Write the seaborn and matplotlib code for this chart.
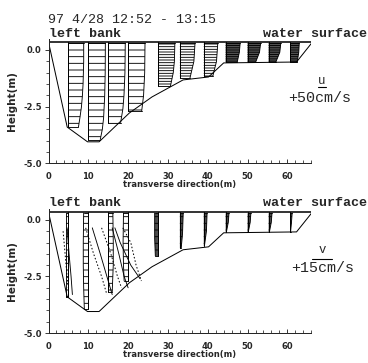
import numpy as np
import pandas as pd
import matplotlib
matplotlib.use("Agg")
import matplotlib.pyplot as plt
import seaborn as sns

# ---- cross-section geometry (m) ----
bed_x = [0.0, 4.7, 9.8, 12.7, 20.3, 26.0, 33.8, 40.2, 44.0, 62.3, 66.3]
bed_z = [0.35, -3.40, -4.05, -4.05, -2.78, -2.07, -1.32, -1.19, -0.57, -0.53, 0.35]
water_level = 0.35

# ---- measuring verticals ----
station_x = [5.0, 10.0, 15.0, 20.0, 27.5, 33.0, 39.0, 44.5, 50.0, 55.3, 60.7]

# streamwise velocity u (cm/s) at measured heights (m)
u_height = [
    [0.30, -0.50, -1.00, -1.50, -2.00, -2.50, -3.00, -3.40],
    [0.30, -1.00, -2.00, -3.00, -3.50, -3.95],
    [0.30, -1.00, -2.00, -2.60, -3.20],
    [0.30, -1.00, -2.00, -2.70],
    [0.30, -0.50, -1.00, -1.60],
    [0.30, -0.50, -1.25],
    [0.30, -0.50, -1.15],
    [0.30, -0.10, -0.55],
    [0.30, -0.10, -0.55],
    [0.30, -0.10, -0.55],
    [0.30, -0.10, -0.55],
]
u_value = [
    [96, 96, 94, 92, 88, 82, 72, 63],
    [107, 106, 103, 96, 88, 75],
    [107, 105, 99, 92, 78],
    [106, 104, 97, 85],
    [106, 103, 96, 78],
    [95, 88, 63],
    [88, 80, 57],
    [91, 86, 72],
    [82, 75, 50],
    [76, 70, 44],
    [57, 54, 44],
]

# transverse velocity v (cm/s): bar profiles
v_height = [
    [0.30, -1.00, -2.00, -3.00, -3.40],
    [0.30, -1.00, -2.00, -3.00, -3.95],
    [0.30, -1.00, -2.00, -3.20],
    [0.30, -1.00, -2.00, -2.70],
    [0.30, -0.80, -1.60],
    [0.30, -0.60, -1.25],
    [0.30, -0.50, -1.15],
    [0.30, -0.10, -0.55],
    [0.30, -0.10, -0.55],
    [0.30, -0.10, -0.55],
    [0.30, -0.10, -0.55],
]
v_value = [
    [-1.5, -1.5, -1.5, -1.5, -1.5],
    [-3.5, -3.8, -3.8, -3.5, -3.0],
    [3.5, 3.8, 3.8, 3.0],
    [-3.5, -3.8, -3.5, -3.0],
    [-2.5, -2.5, -2.0],
    [2.5, 2.0, 1.0],
    [2.5, 2.0, 0.5],
    [2.5, 2.0, 0.5],
    [2.5, 2.0, 0.5],
    [2.5, 2.0, 0.5],
    [1.5, 1.0, 0.3],
]
# transverse velocity v (cm/s): continuous profiles on the deep verticals
vline_station = [0, 1, 2, 3]
vline_height = [
    [-0.35, -1.50, -2.50, -3.30],
    [-0.35, -1.50, -2.50, -3.30],
    [-0.35, -1.50, -2.50, -3.00],
    [-0.35, -1.00, -2.00, -2.60],
]
vline_value = [
    [-1.0, 0.5, 2.0, 3.0],
    [3.0, 9.0, 14.0, 18.0],
    [3.0, 8.0, 12.0, 15.0],
    [-10.0, -6.0, 2.0, 9.0],
]
vdot_height = [
    [-0.50, -1.50, -2.50, -3.00],
    [-0.35, -1.50, -2.50, -3.30],
    [-0.35, -1.50, -2.50, -3.00],
    [-0.35, -1.00, -2.00, -2.70],
]
vdot_value = [
    [-4.0, -2.5, -1.0, 0.0],
    [-2.0, 4.0, 10.0, 14.0],
    [-5.0, 2.0, 7.0, 10.0],
    [-4.0, 2.0, 6.0, 10.0],
]

U_SCALE = 2.0 / 50.0      # m of axis per cm/s
V_SCALE = 5.0 / 15.0
U_REF, V_REF = 50, 15

# hatch pattern per vertical (bar spacing)
hatches = ["--", "--", "--", "--", "-----", "-----", "-----",
           "------", "------", "------", "------"]

sns.set_style("ticks")
plt.rcParams["hatch.linewidth"] = 0.8
MONO = ["Liberation Mono", "DejaVu Sans Mono"]
SANS = ["DejaVu Sans"]

DPI = 80
fig = plt.figure(figsize=(368 / DPI, 363 / DPI), dpi=DPI)
ax_u = fig.add_axes([0.1318, 0.550, 0.714, 0.3435])
ax_v = fig.add_axes([0.1318, 0.0826, 0.714, 0.3427])


def frame(ax):
    bed = pd.DataFrame({"x": bed_x, "z": bed_z})
    sns.lineplot(data=bed, x="x", y="z", sort=False, estimator=None,
                 color="black", lw=0.9, ax=ax)
    ax.plot([bed_x[0], bed_x[-1]], [water_level, water_level],
            color="black", lw=1.4)
    ax.set_xlim(0, 66)
    ax.set_ylim(-5.0, 0.5)
    ax.set_xticks([0, 10, 20, 30, 40, 50, 60])
    ax.set_xticks(np.arange(0, 67, 2), minor=True)
    ax.set_yticks([0.0, -2.5, -5.0])
    ax.set_yticklabels(["0.0", "-2.5", "-5.0"])
    ax.set_yticks(np.arange(-5.0, 0.01, 0.5), minor=True)
    for s in ("top", "right"):
        ax.spines[s].set_visible(False)
    for s in ("left", "bottom"):
        ax.spines[s].set_linewidth(0.9)
    ax.tick_params(axis="x", which="major", direction="in", length=4,
                   width=0.8, pad=8, labelsize=7.5)
    ax.tick_params(axis="x", which="minor", direction="in", length=2.5,
                   width=0.7)
    ax.tick_params(axis="y", which="major", direction="out", length=4,
                   width=0.8, pad=2, labelsize=7.5)
    ax.tick_params(axis="y", which="minor", direction="out", length=2.5,
                   width=0.7)
    for lab in ax.get_xticklabels() + ax.get_yticklabels():
        lab.set_fontweight("bold")
        lab.set_family(SANS)
    ax.set_xlabel("transverse direction(m)", fontsize=7.5, fontweight="bold",
                  family=SANS, labelpad=-1)
    ax.set_ylabel("Height(m)", fontsize=9.5, fontweight="bold",
                  family=SANS, labelpad=6)


def bars(ax, heights, values, scale, x0, hatch, face="none"):
    h = np.asarray(heights, float)
    xs = x0 + np.asarray(values, float) * scale
    ax.fill_betweenx(h, x0, xs, facecolor=face, edgecolor="black",
                     hatch=hatch, lw=0.0)
    ax.plot(xs, h, color="black", lw=0.8)
    ax.plot([x0, x0], [water_level, h[-1]], color="black", lw=0.9)
    ax.plot([x0, xs[0]], [h[0], h[0]], color="black", lw=0.8)
    ax.plot([x0, xs[-1]], [h[-1], h[-1]], color="black", lw=0.8)


# ---- upper panel: u ----
frame(ax_u)
for i, x0 in enumerate(station_x):
    face = "#505050" if i >= 7 else "none"
    bars(ax_u, u_height[i], u_value[i], U_SCALE, x0, hatches[i], face)

# ---- lower panel: v ----
frame(ax_v)
for i, x0 in enumerate(station_x):
    face = "#4a4a4a" if i >= 4 else "none"
    bars(ax_v, v_height[i], v_value[i], V_SCALE, x0, "--", face)
for k, si in enumerate(vline_station):
    x0 = station_x[si]
    ax_v.plot(x0 + np.asarray(vline_value[k]) * V_SCALE, vline_height[k],
              color="black", lw=0.8)
    ax_v.plot(x0 + np.asarray(vdot_value[k]) * V_SCALE, vdot_height[k],
              color="black", lw=0.9, ls=(0, (1.5, 2)))

# ---- reference arrows ----
ax_u.plot([67.8, 67.8 + U_REF * U_SCALE], [-1.63, -1.63], color="black",
          lw=1.0, clip_on=False)
ax_u.text(68.5, -1.38, "u", ha="center", va="center", fontsize=11,
          family=MONO)
ax_u.text(68.2, -2.12, f"+{U_REF}cm/s", ha="center", va="center",
          fontsize=13.5, family=MONO)
ax_v.plot([66.2, 66.2 + V_REF * V_SCALE], [-1.72, -1.72], color="black",
          lw=1.0, clip_on=False)
ax_v.text(68.7, -1.32, "v", ha="center", va="center", fontsize=11,
          family=MONO)
ax_v.text(68.9, -2.11, f"+{V_REF}cm/s", ha="center", va="center",
          fontsize=13.5, family=MONO)

# ---- annotations ----
W, H = 368.0, 363.0
fig.text(48 / W, 1 - 20 / H, "97 4/28 12:52 - 13:15", ha="left",
         va="center", fontsize=12, family=MONO)
for y_lb, y_ws in ((34, 34), (203, 202.5)):
    fig.text(49 / W, 1 - y_lb / H, "left bank", ha="left", va="center",
             fontsize=12, family=MONO, fontweight="bold")
    fig.text(367 / W, 1 - y_ws / H, "water surface", ha="right",
             va="center", fontsize=12, family=MONO, fontweight="bold")

fig.savefig("out.png", dpi=DPI)
